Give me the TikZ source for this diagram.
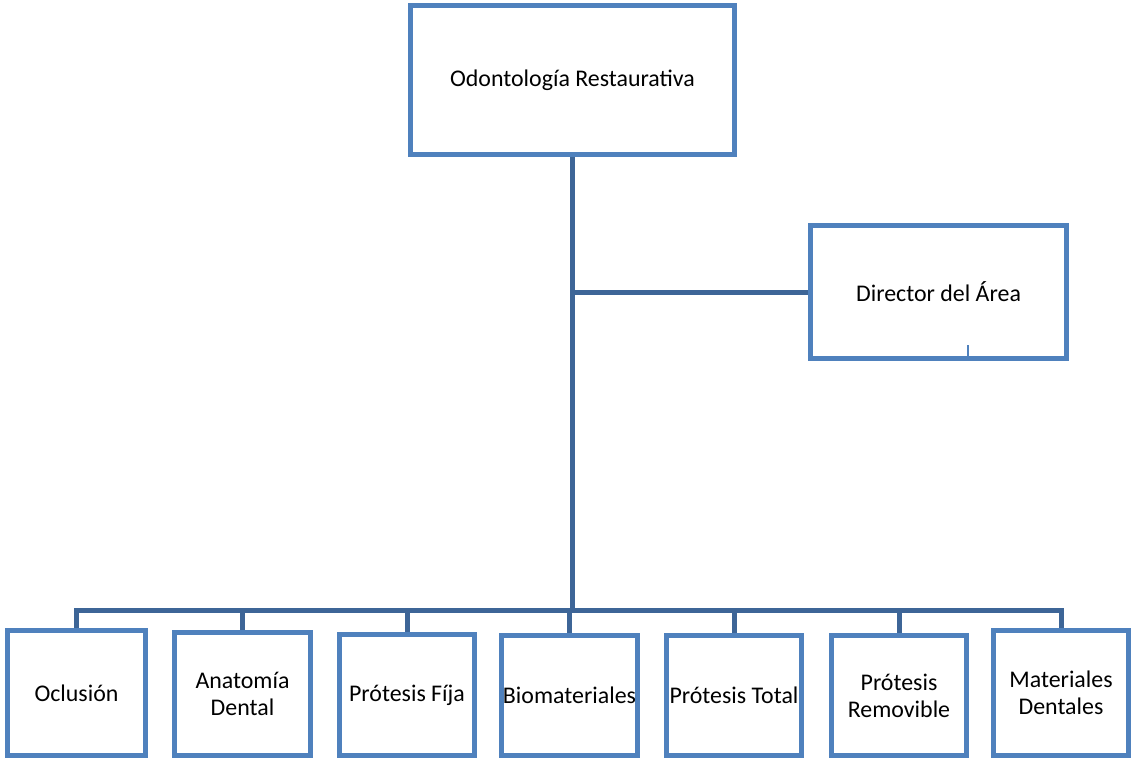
\documentclass[tikz,border=0pt]{standalone}
\usepackage{fontspec}
\setmainfont{Carlito}
\usetikzlibrary{positioning}
\definecolor{boxblue}{HTML}{4F81BD}
\definecolor{lineblue}{HTML}{3D6597}

\begin{document}
\begin{tikzpicture}[
    x=0.02cm,
    y=-0.02cm,
    font=\fontsize{13.6}{15.3}\selectfont,
    unit/.style={
        rectangle,
        draw=boxblue,
        line width=0.1cm,
        fill=white,
        align=center,
        inner sep=1pt
    },
    area/.style={
        unit,
        minimum width=2.7cm,
        minimum height=2.4cm
    },
    link/.style={draw=lineblue, line width=0.1cm}
]
    \useasboundingbox (0,0) rectangle (1134,761);

    % Head and director
    \node[unit, minimum width=6.48cm, minimum height=3.0cm] (head) at (572.5,80) {Odontología Restaurativa};
    \node[unit, minimum width=5.12cm, minimum height=2.66cm] (director) at (938.5,292) {Director del Área};

    % Areas
    \node[area, minimum width=2.76cm, minimum height=2.5cm] (oclusion) at (76.5,693) {Oclusión};
    \node[area, minimum width=2.72cm, minimum height=2.46cm] (anatomia) at (242.5,694) {Anatomía\\Dental};
    \node[area, minimum height=2.42cm] (fija) at (407,695) {Prótesis Fíja};
    \node[area, minimum height=2.4cm] (biomat) at (569.5,695.5) {Biomateriales};
    \node[area] (total) at (734,695.5) {Prótesis Total};
    \node[area] (removible) at (899,695.5) {Prótesis\\Removible};
    \node[area, minimum height=2.5cm] (materiales) at (1061,693) {Materiales\\Dentales};

    % Lines
    \coordinate (bus) at (572.5,610);
    \draw[link] (head.south) -- (bus);
    \draw[link] (director.west) -- (director.west -| head.south);
    \draw[link] (oclusion.north) |- (bus) -| (materiales.north);
    \foreach \n in {anatomia,fija,biomat,total,removible}
        \draw[link] (bus -| \n.north) -- (\n.north);

    % cursor mark
    \draw[boxblue, line width=0.6pt] (968,345) -- (968,356);
\end{tikzpicture}
\end{document}
